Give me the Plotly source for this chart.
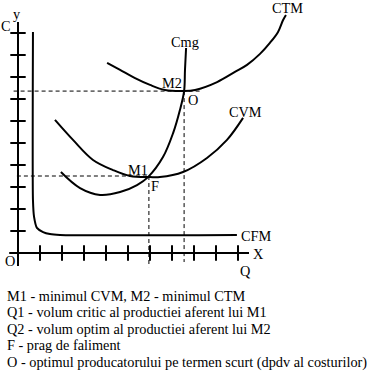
import plotly.graph_objects as go

# Curve readings (Q units along X, C units along Y; one tick = 1 unit)
ctm_q = [4.05, 4.64, 5.32, 6.0, 6.68, 7.55, 8.05, 9.05, 9.86, 10.41, 11.0, 11.45, 11.82, 12.05, 12.18]
ctm_c = [8.64, 8.32, 7.95, 7.64, 7.41, 7.36, 7.41, 7.77, 8.23, 8.55, 9.05, 9.55, 10.05, 10.59, 10.82]

cvm_q = [1.68, 2.5, 3.41, 4.32, 5.09, 6.0, 6.45, 7.5, 8.59, 9.5, 10.23]
cvm_c = [6.05, 5.14, 4.23, 3.77, 3.5, 3.45, 3.45, 3.68, 4.32, 5.14, 6.14]

cmg_q = [1.95, 2.82, 3.73, 4.64, 5.41, 5.91, 6.59, 7.05, 7.36, 7.55, 7.59, 7.64]
cmg_c = [3.68, 2.95, 2.64, 2.77, 3.09, 3.45, 4.36, 5.45, 6.5, 7.36, 8.32, 9.32]

cfm_q = [0.68, 0.68, 0.73, 0.86, 1.14, 1.45, 1.91, 9.95]
cfm_c = [10.05, 2.41, 1.64, 1.14, 0.95, 0.86, 0.82, 0.82]

q1, m1 = 5.95, 3.5
q2, m2 = 7.55, 7.36

tick_vals = [1, 2, 3, 4, 5, 6, 7, 8, 9, 10]

curve_labels = [
    ("CTM", 12.23, 11.14), ("Cmg", 7.59, 9.59), ("M2", 7.0, 7.73), ("O", 7.95, 6.95),
    ("CVM", 10.32, 6.41), ("M1", 5.45, 3.77), ("F", 6.23, 3.05), ("CFM", 10.82, 0.77),
    ("X", 10.91, -0.05), ("Q", 10.36, -0.82), ("O", -0.36, -0.36), ("C", -0.55, 10.32),
    ("y", -0.05, 10.86),
]

legend_lines = [
    "M1 - minimul CVM, M2 - minimul CTM",
    "Q1 - volum critic al productiei aferent lui M1",
    "Q2 - volum optim al productiei aferent lui M2",
    "F - prag de faliment",
    "O - optimul producatorului pe termen scurt (dpdv al costurilor)",
]

FONT = "Liberation Serif"
FS = 14.3
black = "black"

fig = go.Figure()

# axes
fig.add_trace(go.Scatter(x=[0, 0], y=[-0.59, 10.5], mode="lines", line=dict(color=black, width=2)))
fig.add_trace(go.Scatter(x=[-0.4, 10.5], y=[0, 0], mode="lines", line=dict(color=black, width=2)))
fig.add_trace(go.Scatter(x=tick_vals, y=[0] * len(tick_vals), mode="markers",
                         marker=dict(symbol="line-ns", size=11, line=dict(color=black, width=2))))
fig.add_trace(go.Scatter(x=[0] * len(tick_vals), y=tick_vals, mode="markers",
                         marker=dict(symbol="line-ew", size=11, line=dict(color=black, width=2))))

# dashed guides
dash = "4px,3px"
fig.add_trace(go.Scatter(x=[-0.2, 8.27], y=[m2, m2], mode="lines", line=dict(color=black, width=1, dash=dash)))
fig.add_trace(go.Scatter(x=[q2, q2], y=[m2, -0.41], mode="lines", line=dict(color=black, width=1, dash=dash)))
fig.add_trace(go.Scatter(x=[-0.05, q1], y=[m1, m1], mode="lines", line=dict(color=black, width=1, dash=dash)))
fig.add_trace(go.Scatter(x=[q1, q1], y=[m1, -0.64], mode="lines", line=dict(color=black, width=1, dash=dash)))

# curves
for qs, cs in [(ctm_q, ctm_c), (cvm_q, cvm_c), (cmg_q, cmg_c)]:
    fig.add_trace(go.Scatter(x=qs, y=cs, mode="lines",
                             line=dict(color=black, width=2, shape="spline", smoothing=1.0)))
fig.add_trace(go.Scatter(x=cfm_q, y=cfm_c, mode="lines",
                         line=dict(color=black, width=2, shape="spline", smoothing=0.6)))

for txt, xq, yc in curve_labels:
    fig.add_annotation(x=xq, y=yc, text=txt, showarrow=False,
                       font=dict(family=FONT, size=FS, color=black))

line_y = [296, 312, 329, 345, 362]
for txt, py in zip(legend_lines, line_y):
    fig.add_annotation(xref="paper", yref="paper", x=5 / 374, y=1 - py / 374, text=txt,
                       showarrow=False, xanchor="left", yanchor="middle",
                       font=dict(family=FONT, size=FS, color=black))

fig.update_layout(
    width=374, height=374, margin=dict(l=0, r=0, t=0, b=0),
    paper_bgcolor="white", plot_bgcolor="white", showlegend=False,
    xaxis=dict(visible=False, range=[-18 / 22, 356 / 22], fixedrange=True),
    yaxis=dict(visible=False, range=[-121 / 22, 253 / 22], fixedrange=True),
)

fig.write_html("out.html", config={"displayModeBar": False},
               post_script="document.body.style.margin='0px';")
